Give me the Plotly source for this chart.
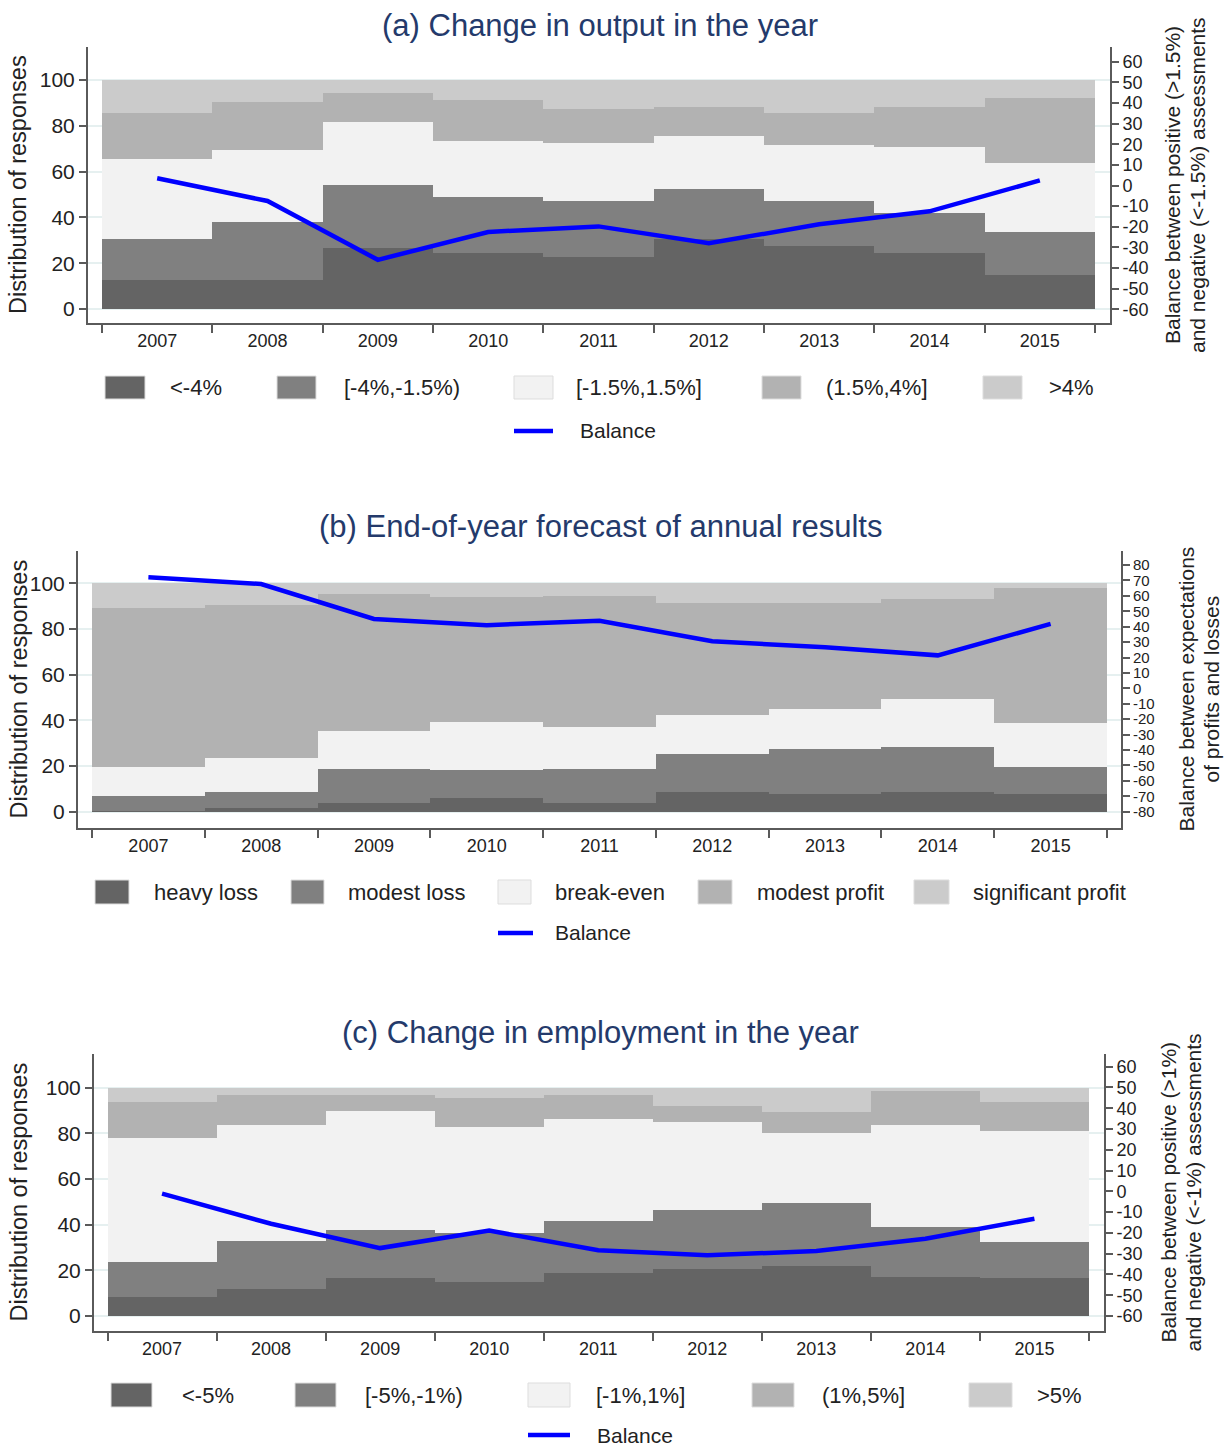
import plotly.graph_objects as go

W, H = 1225, 1449
FONT = "Liberation Sans, Arial, Helvetica, sans-serif"

years = ["2007", "2008", "2009", "2010", "2011", "2012", "2013", "2014", "2015"]

# (a) Change in output in the year: shares of responses (%)
output_labels = ["<-4%", "[-4%,-1.5%)", "[-1.5%,1.5%]", "(1.5%,4%]", ">4%"]
out_below_m4 = [12.7, 12.7, 26.6, 24.3, 22.9, 30.5, 27.7, 24.5, 15.0]
out_m4_m15 = [17.9, 25.1, 27.5, 24.5, 24.1, 22.0, 19.3, 17.3, 18.8]
out_m15_p15 = [34.9, 31.6, 27.7, 24.4, 25.3, 22.9, 24.6, 28.9, 30.0]
out_p15_p4 = [20.2, 21.1, 12.5, 18.1, 15.0, 12.6, 14.1, 17.3, 28.3]
out_above_p4 = [14.3, 9.5, 5.7, 8.7, 12.7, 12.0, 14.3, 12.0, 7.9]
out_balance = [3.5, -7.5, -36.0, -22.5, -19.8, -28.0, -18.8, -12.5, 2.5]

# (b) End-of-year forecast of annual results
results_labels = ["heavy loss", "modest loss", "break-even", "modest profit", "significant profit"]
res_heavy_loss = [0.5, 1.5, 3.9, 6.1, 3.9, 8.5, 8.0, 8.5, 8.0]
res_modest_loss = [6.5, 7.0, 14.9, 12.0, 14.8, 16.6, 19.4, 19.8, 11.7]
res_break_even = [12.7, 15.1, 16.7, 21.3, 18.4, 17.5, 17.6, 21.3, 19.0]
res_modest_profit = [69.4, 66.9, 59.7, 54.6, 57.4, 48.9, 46.5, 43.4, 59.1]
res_sig_profit = [10.9, 9.5, 4.8, 6.0, 5.5, 8.5, 8.5, 7.0, 2.2]
res_balance = [72.0, 67.7, 45.0, 41.0, 43.9, 30.5, 26.6, 21.4, 41.8]

# (c) Change in employment in the year
employment_labels = ["<-5%", "[-5%,-1%)", "[-1%,1%]", "(1%,5%]", ">5%"]
emp_below_m5 = [8.5, 11.7, 16.4, 14.7, 18.7, 20.4, 21.9, 17.2, 16.4]
emp_m5_m1 = [15.0, 21.3, 21.1, 21.5, 22.8, 25.9, 27.7, 21.9, 15.9]
emp_m1_p1 = [54.5, 50.5, 52.3, 46.4, 44.9, 38.8, 30.7, 44.3, 48.9]
emp_p1_p5 = [15.7, 13.3, 7.0, 12.7, 10.4, 7.0, 8.9, 15.1, 12.5]
emp_above_p5 = [6.3, 3.2, 3.2, 4.7, 3.2, 7.9, 10.8, 1.5, 6.3]
emp_balance = [-1.1, -15.6, -27.3, -18.9, -28.3, -30.8, -28.7, -22.8, -13.2]

band_colors = ["#646464", "#808080", "#f2f2f2", "#b2b2b2", "#cbcbcb"]
line_color = "#0000ff"
title_color = "#243a6b"
axis_color = "#5a5a5a"
text_color = "#222222"

panels = [
    dict(
        title="(a) Change in output in the year",
        labels=output_labels,
        series=[out_below_m4, out_m4_m15, out_m15_p15, out_p15_p4, out_above_p4],
        balance=out_balance,
        right_title=["Balance between positive (>1.5%)", "and negative (<-1.5%) assessments"],
        right_ticks=list(range(-60, 61, 10)), right_tick_size=18,
        # layout geometry in pixels
        box=(88, 1110, 47, 323), xrange=[-0.627, 8.636],
        yrange=[-6.1, 114.4], y2range=[-66.6, 67.1],
        title_y=25, left_title_x=18, right_title_x=(1173, 1198),
        leg_swatch_x=[(105, 145), (277, 316), (514, 553), (762, 801), (983, 1022)],
        leg_label_x=[168, 342, 574, 824, 1047], leg_y=(376, 399),
        bal_x=(514, 553), bal_label_x=578, bal_y=431,
    ),
    dict(
        title="(b) End-of-year forecast of annual results",
        labels=results_labels,
        series=[res_heavy_loss, res_modest_loss, res_break_even, res_modest_profit, res_sig_profit],
        balance=res_balance,
        right_title=["Balance between expectations", "of profits and losses"],
        right_ticks=list(range(-80, 81, 10)), right_tick_size=15,
        box=(78, 1121, 551, 828), xrange=[-0.624, 8.624],
        yrange=[-7.1, 114.2], y2range=[-90.6, 89.1],
        title_y=527, left_title_x=18, right_title_x=(1186, 1211),
        leg_swatch_x=[(95, 129), (291, 324), (498, 531), (698, 732), (914, 949)],
        leg_label_x=[152, 346, 553, 755, 971], leg_y=(880, 904),
        bal_x=(498, 533), bal_label_x=553, bal_y=933,
    ),
    dict(
        title="(c) Change in employment in the year",
        labels=employment_labels,
        series=[emp_below_m5, emp_m5_m1, emp_m1_p1, emp_p1_p5, emp_above_p5],
        balance=emp_balance,
        right_title=["Balance between positive (>1%)", "and negative (<-1%) assessments"],
        right_ticks=list(range(-60, 61, 10)), right_tick_size=18,
        box=(94, 1104, 1054, 1331), xrange=[-0.624, 8.638],
        yrange=[-6.6, 114.7], y2range=[-67.2, 66.1],
        title_y=1032, left_title_x=18, right_title_x=(1168, 1193),
        leg_swatch_x=[(111, 152), (295, 336), (528, 570), (752, 794), (969, 1012)],
        leg_label_x=[180, 363, 594, 820, 1035], leg_y=(1383, 1407),
        bal_x=(528, 570), bal_label_x=595, bal_y=1435,
    ),
]


def px(x):
    return x / W


def py(y):
    return 1 - y / H


fig = go.Figure()
annotations = []
shapes = []
layout_axes = {}

for i, p in enumerate(panels):
    xa = "x" if i == 0 else f"x{i + 1}"
    ya = "y" if i == 0 else f"y{2 * i + 1}"
    yb = f"y{2 * i + 2}"
    left, right, top, bottom = p["box"]

    for vals, name, color in zip(p["series"], p["labels"], band_colors):
        fig.add_trace(go.Bar(
            x=years, y=vals, name=name, marker=dict(color=color, line=dict(width=0)),
            xaxis=xa, yaxis=ya, showlegend=False,
        ))
    fig.add_trace(go.Scatter(
        x=years, y=p["balance"], name="Balance", mode="lines",
        line=dict(color=line_color, width=4.5), xaxis=xa, yaxis=yb, showlegend=False,
    ))

    xkey = "xaxis" if i == 0 else f"xaxis{i + 1}"
    ykey = "yaxis" if i == 0 else f"yaxis{2 * i + 1}"
    y2key = f"yaxis{2 * i + 2}"
    layout_axes[xkey] = dict(
        domain=[px(left), px(right)], anchor=ya, type="category",
        categoryorder="array", categoryarray=years, range=p["xrange"],
        tickson="boundaries", ticks="outside", ticklen=8, tickwidth=1.5,
        tickcolor=axis_color, showline=True, linecolor=axis_color, linewidth=2,
        showgrid=False, zeroline=False,
        tickfont=dict(family=FONT, size=18, color=text_color),
    )
    layout_axes[ykey] = dict(
        domain=[py(bottom), py(top)], anchor=xa, range=p["yrange"],
        tickvals=[0, 20, 40, 60, 80, 100], ticks="outside", ticklen=7, tickwidth=1.5,
        tickcolor=axis_color, showline=True, linecolor=axis_color, linewidth=2,
        showgrid=True, gridcolor="#e6f0f0", gridwidth=1.5, zeroline=False,
        tickfont=dict(family=FONT, size=21, color=text_color),
    )
    layout_axes[y2key] = dict(
        overlaying=ya, side="right", anchor=xa, range=p["y2range"],
        tickvals=p["right_ticks"], ticktext=[str(v) for v in p["right_ticks"]],
        ticks="outside", ticklen=7, tickwidth=1.5, tickcolor=axis_color,
        showline=True, linecolor=axis_color, linewidth=2,
        showgrid=False, zeroline=False,
        tickfont=dict(family=FONT, size=p["right_tick_size"], color=text_color),
    )

    mid_y = (top + bottom) / 2
    annotations.append(dict(
        text=p["title"], x=px(600), y=py(p["title_y"]), xref="paper", yref="paper",
        xanchor="center", yanchor="middle", showarrow=False,
        font=dict(family=FONT, size=31, color=title_color),
    ))
    annotations.append(dict(
        text="Distribution of responses", x=px(p["left_title_x"]), y=py(mid_y),
        xref="paper", yref="paper", xanchor="center", yanchor="middle",
        textangle=-90, showarrow=False, font=dict(family=FONT, size=23.5, color=text_color),
    ))
    for line_text, lx in zip(p["right_title"], p["right_title_x"]):
        annotations.append(dict(
            text=line_text, x=px(lx), y=py(mid_y), xref="paper", yref="paper",
            xanchor="center", yanchor="middle", textangle=-90, showarrow=False,
            font=dict(family=FONT, size=21, color=text_color),
        ))

    # legend: five shaded swatches in a row, the balance line centred underneath
    y0, y1 = p["leg_y"]
    for (sx0, sx1), lx, name, color in zip(p["leg_swatch_x"], p["leg_label_x"], p["labels"], band_colors):
        shapes.append(dict(
            type="rect", xref="paper", yref="paper", x0=px(sx0), x1=px(sx1),
            y0=py(y1), y1=py(y0), fillcolor=color, line=dict(color="#dddddd", width=1),
        ))
        annotations.append(dict(
            text=name, x=px(lx), y=py((y0 + y1) / 2), xref="paper", yref="paper",
            xanchor="left", yanchor="middle", showarrow=False,
            font=dict(family=FONT, size=22, color=text_color),
        ))
    bx0, bx1 = p["bal_x"]
    shapes.append(dict(
        type="line", xref="paper", yref="paper", x0=px(bx0), x1=px(bx1),
        y0=py(p["bal_y"]), y1=py(p["bal_y"]), line=dict(color=line_color, width=4.5),
    ))
    annotations.append(dict(
        text="Balance", x=px(p["bal_label_x"]), y=py(p["bal_y"]), xref="paper", yref="paper",
        xanchor="left", yanchor="middle", showarrow=False,
        font=dict(family=FONT, size=21, color=text_color),
    ))

fig.update_layout(
    width=W, height=H, margin=dict(l=0, r=0, t=0, b=0),
    paper_bgcolor="white", plot_bgcolor="white",
    barmode="stack", bargap=0, showlegend=False,
    font=dict(family=FONT, color=text_color),
    annotations=annotations, shapes=shapes,
    **layout_axes,
)

fig.write_html("out.html")
